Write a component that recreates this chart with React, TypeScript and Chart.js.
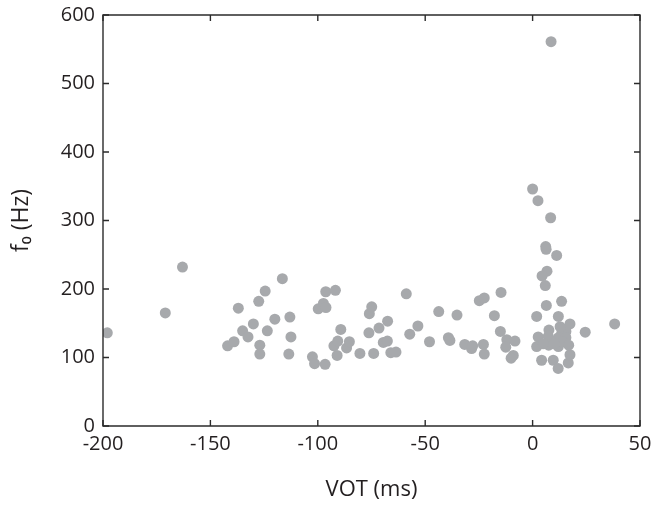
import React, { useEffect, useRef } from 'react';
import { Chart, registerables } from 'chart.js';

Chart.register(...registerables);

const xAxisTicks = [-200, -150, -100, -50, 0, 50];
const yAxisTicks = [0, 100, 200, 300, 400, 500, 600];

const votMs = [
  -198, -171, -163,
  -142, -139, -137, -135, -132.5, -130, -127.5, -127, -127, -124.5, -123.5, -120, -116.5, -113, -112.5, -113.5,
  -102.5, -101.5, -99.8, -97.4, -96.3, -96.2, -96.6, -91.8, -91, -92.5, -90.7, -89.3, -86.6, -85.3,
  -80.4, -76, -74.9, -76.2, -74, -71.5, -69.5, -67.6, -67.5, -66, -63.6,
  -58.8, -57.2, -53.4, -48, -43.7, -39.2, -38.5, -35.2, -31.6, -28.4, -27.9, -24.8, -22.5, -22.9, -22.5,
  -17.8, -14.7, -15, -12, -8.2, -12.5, -9, -10,
  0, 2.5, 8.4, 6.1, 6.3, 11.2, 6.7, 4.4, 5.9, 8.6, 13.5, 6.4, 1.9, 12, 17.4, 24.5, 38.2, 7.6, 2.6, 1.9,
  4.2, 9.6, 11.9, 16.6, 17.4, 13.5, 15.5, 12.8, 7.3, 12, 15.5, 7.5, 12, 14, 16.8, 10, 5,
];

const f0Hz = [
  136, 165, 232,
  117, 123, 172, 139, 130, 149, 182, 118, 105, 197, 139, 156, 215, 159, 130, 105,
  101, 91, 171, 179, 196, 173, 90, 198, 103, 117, 124, 141, 114, 123,
  106, 164, 174, 136, 106, 143, 122, 124, 153, 107, 108,
  193, 134, 146, 123, 167, 129, 125, 162, 119, 113, 117, 183, 187, 119, 105,
  161, 195, 138, 126, 124, 115, 103, 99,
  346, 329, 304, 262, 258, 249, 226, 219, 205, 561, 182, 176, 160, 160, 149, 137, 149, 140, 130, 116,
  96, 96, 84, 92, 104, 135, 138, 145, 131, 129, 129, 118, 116, 123, 118, 120, 120,
];

const AXIS_COLOR = '#2b2b2b';
const TEXT_COLOR = '#231f20';
const POINT_COLOR = '#a7a9ac';
const FONT = '"Open Sans", "DejaVu Sans", sans-serif';

const boxPlugin = {
  id: 'boxPlugin',
  afterDatasetsDraw(chart: any) {
    const { ctx, chartArea } = chart;
    const { left, right, top, bottom } = chartArea;
    const xs = chart.scales.x;
    const ys = chart.scales.y;
    const tl = 6;
    ctx.save();
    ctx.strokeStyle = AXIS_COLOR;
    ctx.lineWidth = 1.4;
    ctx.beginPath();
    ctx.rect(left, top, right - left, bottom - top);
    ctx.stroke();
    ctx.beginPath();
    xs.ticks.forEach((t: any) => {
      const px = xs.getPixelForValue(t.value);
      ctx.moveTo(px, bottom);
      ctx.lineTo(px, bottom - tl);
      ctx.moveTo(px, top);
      ctx.lineTo(px, top + tl);
    });
    ys.ticks.forEach((t: any) => {
      const py = ys.getPixelForValue(t.value);
      ctx.moveTo(left, py);
      ctx.lineTo(left + tl, py);
      ctx.moveTo(right, py);
      ctx.lineTo(right - tl, py);
    });
    ctx.stroke();
    ctx.restore();
  },
};

export default function App() {
  const canvasRef = useRef<HTMLCanvasElement | null>(null);

  useEffect(() => {
    if (!canvasRef.current) return;
    const points = votMs.map((v, i) => ({ x: v, y: f0Hz[i] }));
    const chart = new Chart(canvasRef.current, {
      type: 'scatter',
      data: {
        datasets: [
          {
            data: points,
            backgroundColor: POINT_COLOR,
            borderWidth: 0,
            pointRadius: 5.5,
            pointHoverRadius: 5.5,
          },
        ],
      },
      options: {
        responsive: false,
        animation: false,
        layout: { padding: { top: 15, right: 15, left: 0, bottom: 0 } },
        plugins: {
          legend: { display: false },
          tooltip: { enabled: false },
        },
        scales: {
          x: {
            type: 'linear',
            min: xAxisTicks[0],
            max: xAxisTicks[xAxisTicks.length - 1],
            afterBuildTicks: (scale: any) => {
              scale.ticks = xAxisTicks.map((v) => ({ value: v }));
            },
            afterFit: (scale: any) => {
              scale.height = 80;
              scale.paddingLeft = 0;
              scale.paddingRight = 0;
            },
            grid: { display: false, drawTicks: false },
            border: { display: false },
            ticks: {
              color: TEXT_COLOR,
              font: { family: FONT, size: 20 },
              padding: 6,
              maxRotation: 0,
            },
            title: {
              display: true,
              text: 'VOT (ms)',
              color: TEXT_COLOR,
              font: { family: FONT, size: 22 },
              padding: { top: 0, bottom: 3 },
            },
          },
          y: {
            type: 'linear',
            min: yAxisTicks[0],
            max: yAxisTicks[yAxisTicks.length - 1],
            afterBuildTicks: (scale: any) => {
              scale.ticks = yAxisTicks.map((v) => ({ value: v }));
            },
            afterFit: (scale: any) => {
              scale.width = 103;
              scale.paddingTop = 0;
              scale.paddingBottom = 0;
            },
            grid: { display: false, drawTicks: false },
            border: { display: false },
            ticks: {
              color: TEXT_COLOR,
              font: { family: FONT, size: 20 },
              padding: 8,
            },
            title: {
              display: true,
              text: 'f₀ (Hz)',
              color: TEXT_COLOR,
              font: { family: FONT, size: 23 },
              padding: { top: 8, bottom: 0 },
            },
          },
        },
      },
      plugins: [boxPlugin],
    });
    return () => chart.destroy();
  }, []);

  return (
    <div style={{ position: 'absolute', left: 0, top: 0, width: 655, height: 506, background: '#fff' }}>
      <canvas ref={canvasRef} width={655} height={506} style={{ display: 'block' }} />
    </div>
  );
}
